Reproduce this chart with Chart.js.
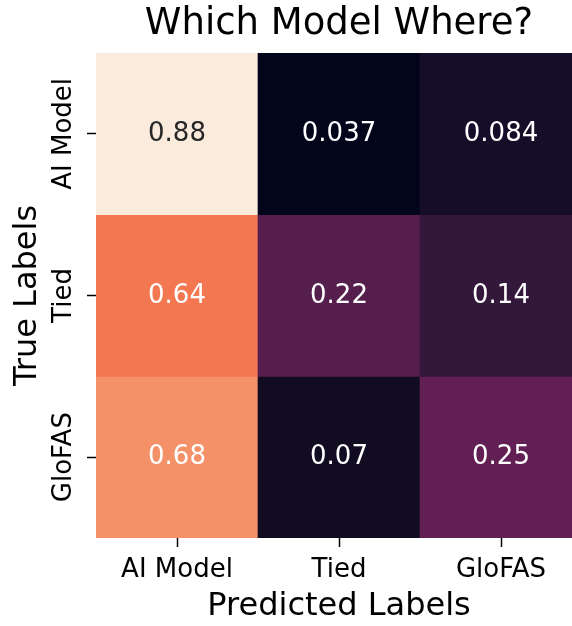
<!DOCTYPE html>
<html>
<head>
<meta charset="utf-8">
<script src="https://cdn.jsdelivr.net/npm/chart.js@4.4.1/dist/chart.umd.min.js"></script>
<style>
  html, body { margin: 0; padding: 0; background: #fff; overflow: hidden; }
  #wrap { width: 582px; height: 626px; }
</style>
</head>
<body>
<div id="wrap"><canvas id="heat" width="582" height="626"></canvas></div>
<script>
// labels
const predLabels = ['AI Model', 'Tied', 'GloFAS'];
const trueLabels = ['AI Model', 'Tied', 'GloFAS'];

// one row per true label, one value per predicted label
const rowAIModel = [0.88, 0.037, 0.084];
const rowTied = [0.64, 0.22, 0.14];
const rowGloFAS = [0.68, 0.07, 0.25];
const rows = [rowAIModel, rowTied, rowGloFAS];

// rocket-like colormap, stops
const rocketStops = [
    [0.00, [3, 5, 26]],
    [0.04, [18, 12, 35]],
    [0.06, [23, 15, 41]],
    [0.12, [50, 24, 59]],
    [0.22, [86, 30, 78]],
    [0.25, [97, 31, 83]],
    [0.50, [161, 26, 91]],
    [0.62, [217, 40, 71]],
    [0.715, [243, 120, 82]],
    [0.763, [244, 145, 104]],
    [1.00, [250, 235, 221]]
];

const allVals = rows.flat();
const vmin = Math.min(...allVals);
const vmax = Math.max(...allVals);

function rocket(v) {
    const t = (v - vmin) / (vmax - vmin);
    for (let k = 1; k < rocketStops.length; k++) {
        const [t1, c1] = rocketStops[k];
        const [t0, c0] = rocketStops[k - 1];
        if (t <= t1) {
            const f = (t - t0) / (t1 - t0);
            return c0.map((c, n) => Math.round(c + (c1[n] - c) * f));
        }
    }
    return rocketStops[rocketStops.length - 1][1];
}
const rgb = c => 'rgb(' + c.join(',') + ')';
// relative luminance, same rule seaborn uses to pick the text colour
function lum(c) {
    const l = c.map(x => {
        x = x / 255;
        return x <= 0.03928 ? x / 12.92 : Math.pow((x + 0.055) / 1.055, 2.4);
    });
    return 0.2126 * l[0] + 0.7152 * l[1] + 0.0722 * l[2];
}

const FONT = '"DejaVu Sans", sans-serif';

// write the value in the middle of each cell
const annotate = {
    id: 'annotate',
    afterDatasetsDraw(chart) {
        const ctx = chart.ctx;
        ctx.save();
        ctx.font = '26px ' + FONT;
        ctx.textAlign = 'center';
        ctx.textBaseline = 'alphabetic';
        chart.data.datasets.forEach((ds, i) => {
            chart.getDatasetMeta(i).data.forEach((bar, j) => {
                const v = ds.values[j];
                const p = bar.getCenterPoint();
                ctx.fillStyle = lum(rocket(v)) > 0.408 ? '#262626' : '#ffffff';
                ctx.fillText(String(Number(v.toPrecision(2))), p.x, p.y + 26 * 0.28);
            });
        });
        ctx.restore();
    }
};

const datasets = rows.map((vals, i) => ({
    label: trueLabels[i],
    values: vals,
    data: vals.map(() => [i, i + 1]),
    backgroundColor: vals.map(v => rgb(rocket(v))),
    borderWidth: 0,
    borderSkipped: false,
    barPercentage: 1,
    categoryPercentage: 1,
    grouped: false
}));

new Chart(document.getElementById('heat'), {
    type: 'bar',
    data: { labels: predLabels, datasets: datasets },
    plugins: [annotate],
    options: {
        responsive: false,
        animation: false,
        devicePixelRatio: 1,
        layout: { padding: 0 },
        plugins: {
            legend: { display: false },
            tooltip: { enabled: false },
            title: {
                display: true,
                fullSize: false,
                text: 'Which Model Where?',
                color: '#000',
                font: { family: FONT, size: 37, weight: 'normal' },
                padding: { top: 2, bottom: 6.6 }
            }
        },
        scales: {
            x: {
                type: 'category',
                offset: true,
                afterFit: s => { s.height = 88; },
                grid: { offset: false, drawOnChartArea: false, tickLength: 9, tickWidth: 1.5, tickColor: '#000' },
                border: { display: false },
                ticks: { color: '#000', font: { family: FONT, size: 26 }, padding: 7.5, maxRotation: 0, autoSkip: false },
                title: { display: true, text: 'Predicted Labels', color: '#000', font: { family: FONT, size: 32 }, padding: { top: 0, bottom: 0 } }
            },
            y: {
                type: 'linear',
                min: 0,
                max: 3,
                reverse: true,
                afterBuildTicks: s => { s.ticks = trueLabels.map((_, i) => ({ value: i + 0.5 })); },
                afterFit: s => { s.width = 96; },
                grid: { drawOnChartArea: false, tickLength: 9, tickWidth: 1.5, tickColor: '#000' },
                border: { display: false },
                ticks: {
                    callback: (v, i) => trueLabels[i],
                    minRotation: 90, maxRotation: 90,
                    crossAlign: 'center',
                    padding: -33,
                    color: '#000',
                    font: { family: FONT, size: 26 }
                },
                title: { display: true, text: 'True Labels', color: '#000', font: { family: FONT, size: 32 }, padding: { top: 8, bottom: 0 } }
            }
        }
    }
});
</script>
</body>
</html>
